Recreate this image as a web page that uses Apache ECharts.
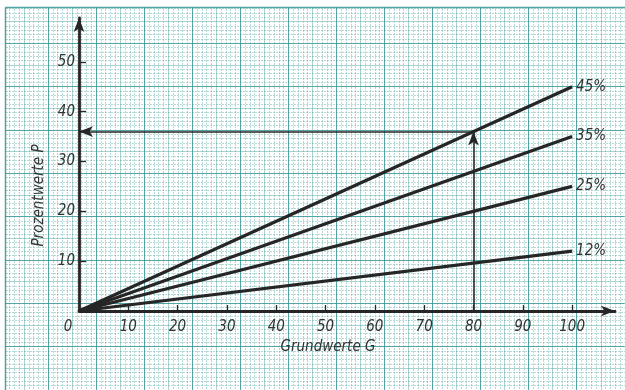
<!DOCTYPE html>
<html>
<head>
<meta charset="utf-8">
<script src="https://cdn.jsdelivr.net/npm/echarts@6/dist/echarts.min.js"></script>
<style>
  html, body { margin: 0; padding: 0; background: #ffffff; }
  #chart { width: 625px; height: 390px; }
</style>
</head>
<body>
<div id="chart"></div>
<script>
// Grundwerte G (x) and Prozentwerte P (y) for each Prozentsatz
const grundwerte = [0, 100];
const prozent45 = [0, 45];
const prozent35 = [0, 35];
const prozent25 = [0, 25];
const prozent12 = [0, 12];
const satzNamen = ['45%', '35%', '25%', '12%'];

// Ablesebeispiel: G = 80 bei 45 %  ->  P = 36
const ableseG = [80];
const ableseP = [36];

// Tick labels
const xTickWerte = [0, 10, 20, 30, 40, 50, 60, 70, 80, 90, 100];
const yTickWerte = [10, 20, 30, 40, 50];

const ink = '#262626';
const teal = 'rgba(55,150,148,0.85)';
const tealMid = 'rgba(55,150,148,0.42)';
const tealFine = 'rgba(55,150,148,0.36)';
const labelFont = '"Liberation Sans Narrow", "DejaVu Sans Condensed", "DejaVu Sans", sans-serif';

function pairs(xs, ys) { return xs.map((x, i) => [x, ys[i]]); }

const reihen = [prozent45, prozent35, prozent25, prozent12].map((werte, i) => ({
  name: satzNamen[i],
  type: 'line',
  xAxisIndex: 0,
  yAxisIndex: 0,
  data: pairs(grundwerte, werte),
  symbol: 'none',
  lineStyle: { color: ink, width: 3.2 },
  endLabel: {
    show: true,
    formatter: '{a}',
    distance: 4,
    color: '#333',
    fontFamily: labelFont,
    fontStyle: 'italic',
    fontSize: 15
  },
  z: 3
}));

// Ableselinien mit Pfeilspitzen
reihen.push({
  type: 'line',
  xAxisIndex: 0,
  yAxisIndex: 0,
  data: [],
  markLine: {
    silent: true,
    symbol: ['none', 'arrow'],
    symbolSize: [8, 14],
    lineStyle: { color: ink, width: 1.6, type: 'solid' },
    label: { show: false },
    data: [
      [{ coord: [ableseG[0], 0] }, { coord: [ableseG[0], ableseP[0]] }],
      [{ coord: [ableseG[0], ableseP[0]] }, { coord: [0, ableseP[0]] }]
    ]
  },
  z: 2
});

const paperSplit = {
  show: true,
  lineStyle: { color: [teal, tealMid], width: 1 }
};
const paperMinor = {
  show: true,
  lineStyle: { color: tealFine, width: 1, type: [2, 1] }
};

const option = {
  backgroundColor: '#ffffff',
  animation: false,
  graphic: [
    // paper sheet edges
    { type: 'rect', z: 10, shape: { x: 0, y: 0, width: 5, height: 390 }, style: { fill: '#ffffff' } },
    { type: 'rect', z: 10, shape: { x: 0, y: 0, width: 625, height: 7 }, style: { fill: '#ffffff' } },
    { type: 'line', z: 11, shape: { x1: 5.5, y1: 7.5, x2: 5.5, y2: 390 }, style: { stroke: teal, lineWidth: 1.5 } },
    { type: 'line', z: 11, shape: { x1: 5.5, y1: 7.5, x2: 625, y2: 7.5 }, style: { stroke: teal, lineWidth: 1.5 } }
  ],
  grid: [
    { left: 79, top: 18, width: 536, height: 293 },
    // millimetre paper
    { left: -17.4, top: -28.2, width: 642.2, height: 447 }
  ],
  xAxis: [
    {
      type: 'value',
      gridIndex: 0,
      min: 0,
      max: 108.7,
      interval: 10,
      name: 'Grundwerte G',
      nameLocation: 'middle',
      nameGap: 27,
      nameTextStyle: {
        color: '#333',
        fontFamily: labelFont,
        fontStyle: 'italic',
        fontSize: 15,
        padding: [0, 38, 0, 0]
      },
      axisLine: {
        show: true,
        onZero: false,
        symbol: ['none', 'arrow'],
        symbolSize: [8, 14],
        lineStyle: { color: ink, width: 2.8 }
      },
      axisTick: {
        show: true,
        inside: true,
        length: 6,
        customValues: [10, 20, 30, 40, 50, 60, 70, 80, 90, 100],
        lineStyle: { color: ink, width: 1.3 }
      },
      axisLabel: {
        show: true,
        customValues: xTickWerte,
        margin: 9,
        color: '#333',
        fontFamily: labelFont,
        fontStyle: 'italic',
        fontSize: 15,
        formatter: v => (v === 0 ? '{o|0}' : String(v)),
        rich: {
          o: {
            padding: [0, 22, 0, 0],
            color: '#333',
            fontFamily: labelFont,
            fontStyle: 'italic',
            fontSize: 15
          }
        }
      },
      splitLine: { show: false }
    },
    {
      type: 'value',
      gridIndex: 1,
      min: 0,
      max: 130,
      interval: 5,
      axisLine: { show: false },
      axisTick: { show: false },
      axisLabel: { show: false },
      minorTick: { show: false, splitNumber: 5 },
      splitLine: paperSplit,
      minorSplitLine: paperMinor
    }
  ],
  yAxis: [
    {
      type: 'value',
      gridIndex: 0,
      min: 0,
      max: 58.8,
      interval: 10,
      name: 'Prozentwerte P',
      nameLocation: 'middle',
      nameGap: 30,
      nameTextStyle: {
        color: '#333',
        fontFamily: labelFont,
        fontStyle: 'italic',
        fontSize: 15,
        padding: [0, 62, 0, 0]
      },
      axisLine: {
        show: true,
        onZero: false,
        symbol: ['none', 'arrow'],
        symbolSize: [8, 14],
        lineStyle: { color: ink, width: 2.8 }
      },
      axisTick: {
        show: true,
        inside: true,
        length: 7,
        customValues: yTickWerte,
        lineStyle: { color: ink, width: 1.3 }
      },
      axisLabel: {
        show: true,
        customValues: yTickWerte,
        margin: 4,
        color: '#333',
        fontFamily: labelFont,
        fontStyle: 'italic',
        fontSize: 15
      },
      splitLine: { show: false }
    },
    {
      type: 'value',
      gridIndex: 1,
      min: 0,
      max: 90,
      interval: 5,
      axisLine: { show: false },
      axisTick: { show: false },
      axisLabel: { show: false },
      minorTick: { show: false, splitNumber: 5 },
      splitLine: paperSplit,
      minorSplitLine: paperMinor
    }
  ],
  series: reihen
};

const chart = echarts.init(document.getElementById('chart'), null, { renderer: 'canvas' });
chart.setOption(option);
</script>
</body>
</html>
